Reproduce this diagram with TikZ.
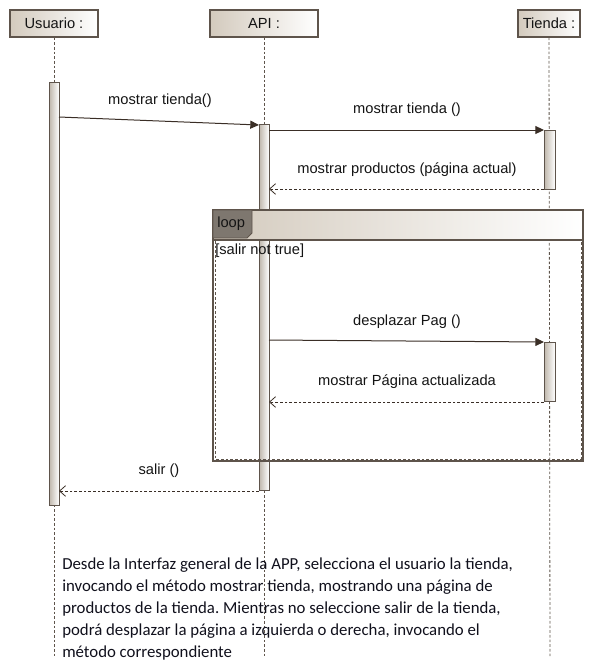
\documentclass[tikz,border=0pt]{standalone}
\usepackage{fontspec}
\setmainfont{Liberation Sans}
\newfontfamily\calibri{Carlito}
\usetikzlibrary{arrows.meta,fit}
\frenchspacing
\definecolor{frame}{HTML}{5E544B}
\definecolor{tanc}{HTML}{D3CABD}
\definecolor{tabfill}{HTML}{7E776F}
\definecolor{txt}{HTML}{141414}
\definecolor{para}{HTML}{10101C}
\definecolor{arrowc}{HTML}{3A2E26}
\begin{document}
\begin{tikzpicture}[x=0.75pt,y=-0.75pt,
  lifebox/.style={draw=frame, line width=0.8pt, left color=tanc, right color=white, inner sep=0pt},
  bar/.style={draw=frame, line width=0.75pt, left color=tanc!90!black, right color=white, inner sep=0pt},
  lifeline/.style={draw=frame, line width=0.6pt, dash pattern=on 2pt off 1.5pt},
  call/.style={draw=arrowc, line width=0.75pt, -{Triangle[length=6.5pt,width=6pt]}},
  ret/.style={draw=arrowc, line width=0.6pt, dash pattern=on 2pt off 1.5pt, -{Straight Barb[length=4.5pt,width=8pt,line width=0.6pt]}},
  msg/.style={font=\fontsize{11}{13}\selectfont, text=txt, inner sep=0pt},
  paraline/.style={font=\calibri\fontsize{12.6}{15}\selectfont, text=para, inner sep=0pt, anchor=base west}]
\useasboundingbox (0,0) rectangle (595,664);

% lifeline heads
\node[lifebox, fit={(10,10)(98,37)}] (usr) {};
\node[msg] at (usr.center) {Usuario :};
\node[lifebox, fit={(210,10)(318,37)}] (api) {};
\node[msg] at (api.center) {API :};
\node[lifebox, fit={(518,10)(580,37)}] (tnd) {};
\node[msg] at (tnd.center) {Tienda :};

% lifelines
\coordinate (usrend) at (54,657);
\coordinate (apiend) at (264,657);
\coordinate (tndend) at (550,657);
\draw[lifeline] (usr.south) -- (usrend);
\draw[lifeline] (api.south) -- (apiend);
\draw[lifeline] (tnd.south) -- (tndend);

% activation bars
\node[bar, fit={(49,82)(59,505)}] (usrbar) {};
\node[bar, fit={(259,124)(269,490)}] (apibar) {};
\node[bar, fit={(544,130)(555,189)}] (tndbar1) {};
\node[bar, fit={(544,342)(555,401)}] (tndbar2) {};

% message 1
\coordinate (m1a) at (59,117);
\coordinate (m1b) at (259,125);
\draw[call] (m1a) -- (m1b);
\node[msg] (l1) at (160,101) {mostrar tienda()};

% message 2
\coordinate (m2a) at (269,130);
\coordinate (m2b) at (544,130);
\draw[call] (m2a) -- (m2b);
\node[msg] (l2) at (407,110) {mostrar tienda ()};

% return 1
\coordinate (r1a) at (544,189);
\coordinate (r1b) at (269,189);
\draw[ret] (r1a) -- (r1b);
\node[msg] (l3) at (407,170) {mostrar productos (página actual)};

% loop frame
\node[draw=frame, line width=0.8pt, left color=tanc, right color=white, inner sep=0pt, fit={(213,210)(583,240)}] (loophead) {};
\draw[draw=frame, line width=0.8pt] (213,240) -- (213,461) -- (583,461) -- (583,240);
\draw[draw=frame, line width=0.6pt, dash pattern=on 2pt off 1.5pt] (215,241) -- (215,459) -- (581,459) -- (581,241);
\filldraw[fill=tabfill, draw=frame, line width=0.6pt] (213,210) -- (252,210) -- (252,233) -- (247,238) -- (213,238) -- cycle;
\node[msg, anchor=west] (looplbl) at (217,224) {loop};
\node[msg, anchor=west] (guard) at (215,251) {[salir not true]};

% message 3
\coordinate (m3a) at (269,340);
\coordinate (m3b) at (544,342);
\draw[call] (m3a) -- (m3b);
\node[msg] (l4) at (407,322) {desplazar Pag ()};

% return 2
\coordinate (r2a) at (544,402);
\coordinate (r2b) at (269,402);
\draw[ret] (r2a) -- (r2b);
\node[msg] (l5) at (407,382) {mostrar Página actualizada};

% return 3
\coordinate (r3a) at (259,491);
\coordinate (r3b) at (59,491);
\draw[ret] (r3a) -- (r3b);
\node[msg] (l6) at (159,471) {salir ()};

% description
\node[paraline] (p1) at (62,569) {Desde la Interfaz general de la APP, selecciona el usuario la tienda,};
\node[paraline] (p2) at (62,591) {invocando el método mostrar tienda, mostrando una página de};
\node[paraline] (p3) at (62,613) {productos de la tienda. Mientras no seleccione salir de la tienda,};
\node[paraline] (p4) at (62,635) {podrá desplazar la página a izquierda o derecha, invocando el};
\node[paraline] (p5) at (62,657) {método correspondiente};
\end{tikzpicture}
\end{document}
